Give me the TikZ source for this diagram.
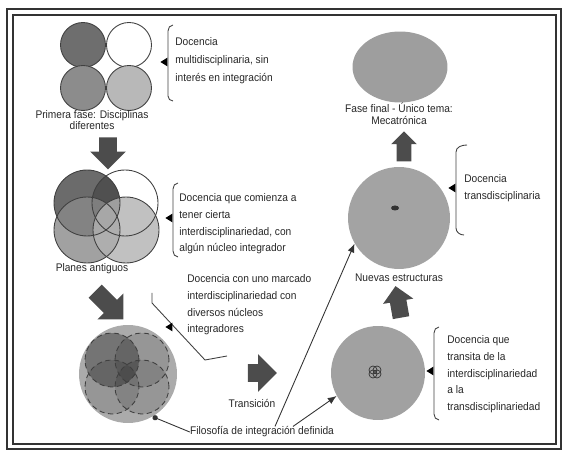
\documentclass[tikz,border=0pt]{standalone}
\usepackage{fontspec}
\setmainfont[FakeStretch=0.92]{Liberation Sans}
\usetikzlibrary{arrows.meta, calc, shapes.geometric, shapes.arrows}

\begin{document}
\begin{tikzpicture}[x=0.02cm, y=-0.02cm,
    note/.style={anchor=north west, align=left, text=black!85, inner sep=0pt, font=\fontsize{6.3}{9.6}\selectfont},
    caption/.style={align=center, text=black!85, inner sep=0pt, font=\fontsize{6.3}{6.6}\selectfont},
    disc/.style={circle, draw=black!75, line width=0.5pt, inner sep=0pt},
    halo/.style={circle, inner sep=0pt},
    blockarrow/.style={single arrow, fill=black!70, inner xsep=0pt, single arrow head indent=0pt},
    bracket/.style={draw=black!75, line width=0.5pt},
    tip/.style={isosceles triangle, isosceles triangle stretches, fill=black, inner sep=0pt, minimum width=5pt, minimum height=4pt, shape border rotate=180},
    link/.style={draw=black!80, line width=0.5pt, -{Latex[length=5pt,width=4pt]}}]
      \useasboundingbox (0,0) rectangle (568,452);
      % frame
      \draw[line width=1.2pt, black!80] (7,9) rectangle (561,449);
      \draw[line width=0.7pt, black!80] (13,15) rectangle (556,444);

      % first phase
      \node[disc, fill=black!57, minimum size=0.9cm] (d1) at (83,45) {};
      \node[disc, fill=white, minimum size=0.9cm] (d2) at (129,45) {};
      \node[disc, fill=black!45, minimum size=0.9cm] (d3) at (83,88) {};
      \node[disc, fill=black!28, minimum size=0.9cm] (d4) at (129,88) {};
      \draw[bracket] (173,25) to[out=180,in=90] (168,31) -- (168,96) to[out=-90,in=180] (173,101);
      \node[tip] (k1) at (165,62) {};
      \node[note, font=\fontsize{6.3}{10.3}\selectfont] (t1) at (175,37) {Docencia\\multidisciplinaria, sin\\interés en integración};
      \node[caption] (primera) at (92,120) {Primera fase: Disciplinas\\diferentes};
      \node[blockarrow, rotate=-90, minimum height=0.64cm, inner ysep=0.17cm, single arrow head extend=0.18cm] (a1) at (108,149) {};

      % old plans
      \node[halo, fill=black!58, minimum size=1.32cm] (p1) at (87,203) {};
      \node[halo, minimum size=1.32cm] (p2) at (125,203) {};
      \begin{scope}
        \clip (p1.center) circle (0.66cm);
        \fill[black, fill opacity=0.25] (p2.center) circle (0.66cm);
      \end{scope}
      \node[halo, fill=black!46, fill opacity=0.8, minimum size=1.32cm] (p3) at (87,230) {};
      \node[halo, fill=black!30, fill opacity=0.8, minimum size=1.32cm] (p4) at (126,230) {};
      \foreach \c in {p1,p2,p3,p4}
        \draw[black!75, line width=0.5pt] (\c.center) circle (0.66cm);
      \draw[bracket] (178,183) to[out=180,in=90] (173,189) -- (173,251) to[out=-90,in=180] (178,257);
      \node[tip] (k2) at (170,218) {};
      \node[note] (t2) at (179,193) {Docencia que comienza a\\tener cierta\\interdisciplinariedad, con\\algún núcleo integrador};
      \node[caption] (planes) at (92,269) {Planes antiguos};
      \node[blockarrow, rotate=-45, minimum height=0.8cm, inner ysep=0.18cm, single arrow head extend=0.18cm] (a2) at (106,302) {};

      % defined philosophy
      \node[halo, fill=black!33, minimum size=1.96cm] (g3) at (128,374) {};
      \node[halo, fill=black, fill opacity=0.32, minimum size=1.08cm] (q1) at (112,360) {};
      \node[halo, fill=black, fill opacity=0.12, minimum size=1.08cm] (q2) at (142,360) {};
      \node[halo, fill=black, fill opacity=0.12, minimum size=1.08cm] (q3) at (112,387) {};
      \node[halo, fill=black, fill opacity=0.12, minimum size=1.08cm] (q4) at (142,387) {};
      \foreach \c in {q1,q2,q3,q4}
        \draw[black!75, line width=0.5pt, densely dashed] (\c.center) circle (0.54cm);
      \draw[bracket] (152,293) -- (152,303) -- (205,360) -- (227,356);
      \node[tip, shape border rotate=223] (k3) at (170,327) {};
      \node[note] (t3) at (187,274) {Docencia con uno marcado\\interdisciplinariedad con\\diversos núcleos\\integradores};
      \node[blockarrow, minimum height=0.58cm, inner ysep=0.17cm, single arrow head extend=0.2cm] (a3) at (258,373) {};
      \node[caption] (transicion) at (252,403) {Transición};
      \node[caption] (filo) at (262,432) {Filosofía de integración definida};

      % final phase
      \node[ellipse, fill=black!38, minimum width=1.9cm, minimum height=1.42cm, inner sep=0pt] (mono) at (400,67) {};
      \node[caption] (final) at (399,114) {Fase final - Único tema:\\Mecatrónica};
      \node[blockarrow, rotate=90, minimum height=0.6cm, inner ysep=0.14cm, single arrow head extend=0.11cm] (a4) at (404,150) {};

      % new structures
      \node[halo, fill=black!36, minimum size=2.04cm] (nuevas) at (399,218) {};
      \node[ellipse, fill=black!80, minimum width=0.16cm, minimum height=0.1cm, inner sep=0pt] (nucleo) at (395,208) {};
      \node[caption] (estructuras) at (399,278) {Nuevas estructuras};
      \draw[bracket] (467,145) to[out=180,in=90] (456,152) -- (456,228) to[out=-90,in=180] (464,235);
      \node[tip] (k4) at (453,188) {};
      \node[note] (t4) at (464,174) {Docencia\\transdisciplinaria};
      \node[blockarrow, rotate=100, minimum height=0.64cm, inner ysep=0.16cm, single arrow head extend=0.14cm] (a5) at (399,306) {};

      % transit
      \node[halo, fill=black!37, minimum size=1.88cm] (transito) at (378,373) {};
      \foreach \dx/\dy in {-2/-2, 2/-2, -2/2, 2/2}
        \draw[black!80, line width=0.4pt] (375+\dx,372+\dy) circle (0.08cm);
      \draw[bracket] (439,327) to[out=180,in=90] (434,333) -- (434,414) to[out=-90,in=180] (439,420);
      \node[tip] (k5) at (431,371) {};
      \node[note] (t5) at (447,335) {Docencia que\\transita de la\\interdisciplinariedad\\a la\\transdisciplinariedad};

      % links
      \draw[draw=black!80, line width=0.5pt, {Circle[length=3pt]}-] (g3.-60) -- (filo.west);
      \draw[link] ([xshift=0.26cm]filo.north) -- (nuevas.210);
      \draw[link] ([xshift=0.62cm]filo.north) -- (transito.209);
    \end{tikzpicture}
\end{document}
